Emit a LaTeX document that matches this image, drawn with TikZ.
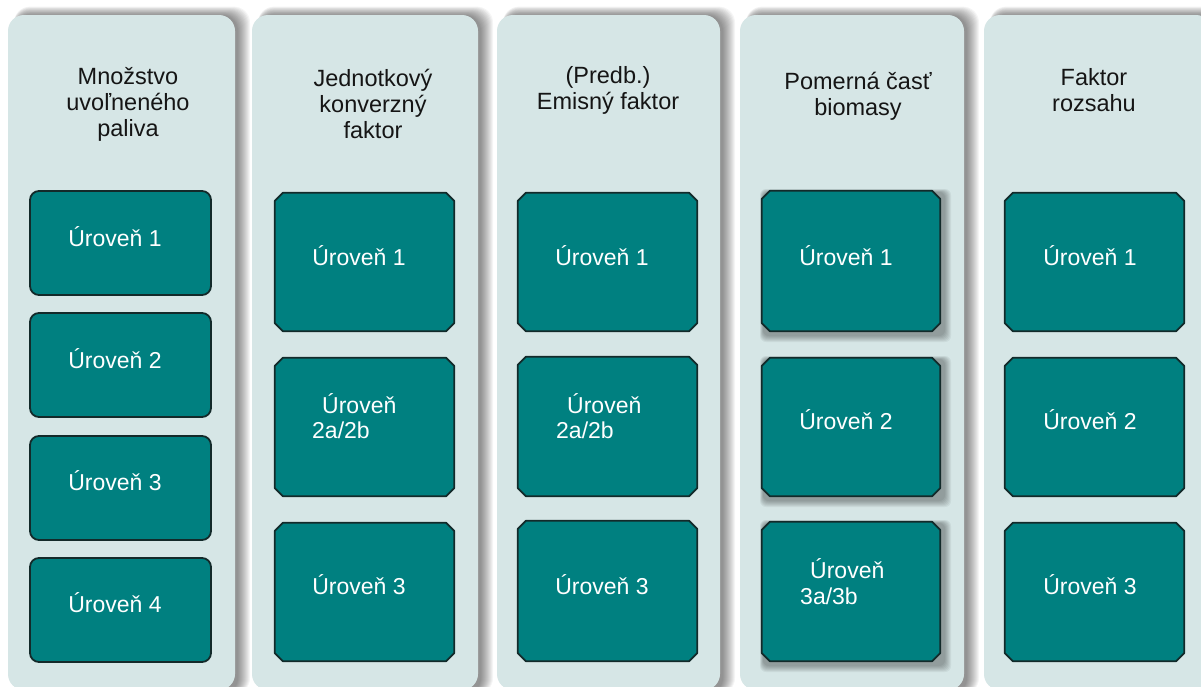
\documentclass[tikz,border=0pt]{standalone}
\usepackage{fontspec}
\setmainfont{Liberation Sans}

\definecolor{lanefill}{HTML}{D6E6E6}
\definecolor{levelfill}{HTML}{008080}
\definecolor{levelline}{HTML}{132A2A}
\definecolor{headink}{HTML}{151515}

\tikzset{
  lane/.style={rectangle, fill=lanefill, rounded corners=16pt, inner sep=0pt},
  levelslot/.style={rectangle, inner sep=0pt},
  levelpath/.style={draw=levelline, line width=1.8pt, fill=levelfill,
    line join=round},
  roundbox/.style={rectangle, rounded corners=9pt, draw=levelline,
    line width=1.8pt, fill=levelfill, inner sep=0pt},
  leveltext/.style={text=white, font=\fontsize{23}{27}\selectfont,
    inner sep=0pt, anchor=base},
  levelleft/.style={leveltext, anchor=base west},
  head/.style={text=headink, font=\fontsize{23.5}{26}\selectfont,
    align=center, inner sep=0pt},
}

% outline of a level box with cut corners, traced round a named node
\newcommand\cutbox[1]{%
  \path[levelpath]
    ([xshift=8pt]#1.north west) -- ([xshift=-8pt]#1.north east)
    -- ([yshift=-8pt]#1.north east) -- ([yshift=8pt]#1.south east)
    -- ([xshift=-8pt]#1.south east) -- ([xshift=8pt]#1.south west)
    -- ([yshift=8pt]#1.south west) -- ([yshift=-8pt]#1.north west)
    -- cycle;}

\begin{document}
\begin{tikzpicture}[x=1pt,y=-1pt]
\useasboundingbox (0,0) rectangle (1201,686);
\fill[white] (0,0) rectangle (1201,686);

% soft shadows to the right of each lane
\foreach \a/\b in {8/235,252/478,497/720,740/964,984/1212}{
  \foreach \i in {0,...,12}{
    \fill[black, opacity=0.04, rounded corners=16pt]
      (\a+6, 15-\i*0.7) rectangle (\b+3+\i, 694);
  }
}

% lanes
\node[lane, minimum width=227pt, minimum height=675pt] (lane1) at (121.5,352.5) {};
\node[lane, minimum width=226pt, minimum height=675pt] (lane2) at (365,352.5) {};
\node[lane, minimum width=223pt, minimum height=675pt] (lane3) at (608.5,352.5) {};
\node[lane, minimum width=224pt, minimum height=675pt] (lane4) at (852,352.5) {};
\node[lane, minimum width=228pt, minimum height=675pt] (lane5) at (1098,352.5) {};

% headings
\node[head] (h1) at (128,104) {Množstvo\\uvoľneného\\paliva};
\node[head] (h2) at (373,104) {Jednotkový\\konverzný\\faktor};
\node[head] (h3) at (608,90) {(Predb.)\\Emisný faktor};
\node[head] (h4) at (858,96) {Pomerná časť\\biomasy};
\node[head] (h5) at (1094,90) {Faktor\\rozsahu};

% first lane: four levels
\node[roundbox, minimum width=181pt, minimum height=104pt] (b11) at (120.5,243) {};
\node[roundbox, minimum width=181pt, minimum height=104pt] (b12) at (120.5,365) {};
\node[roundbox, minimum width=181pt, minimum height=104pt] (b13) at (120.5,488) {};
\node[roundbox, minimum width=181pt, minimum height=104pt] (b14) at (120.5,610) {};
\node[leveltext] (t11) at (115,246) {Úroveň 1};
\node[leveltext] (t12) at (115,368) {Úroveň 2};
\node[leveltext] (t13) at (115,490) {Úroveň 3};
\node[leveltext] (t14) at (115,612) {Úroveň 4};

% second lane
\node[levelslot, minimum width=179pt, minimum height=138pt] (b21) at (364.5,262) {};
\node[levelslot, minimum width=179pt, minimum height=138pt] (b22) at (364.5,427) {};
\node[levelslot, minimum width=179pt, minimum height=138pt] (b23) at (364.5,592) {};
\cutbox{b21}\cutbox{b22}\cutbox{b23}
\node[leveltext] (t21) at (359,265) {Úroveň 1};
\node[levelleft] (t22a) at (322,413) {Úroveň};
\node[levelleft] (t22b) at (312,438) {2a/2b};
\node[leveltext] (t23) at (359,594) {Úroveň 3};

% third lane
\node[levelslot, minimum width=179pt, minimum height=138pt] (b31) at (607.5,262) {};
\node[levelslot, minimum width=179pt, minimum height=139pt] (b32) at (607.5,426.5) {};
\node[levelslot, minimum width=179pt, minimum height=140pt] (b33) at (607.5,591) {};
\cutbox{b31}\cutbox{b32}\cutbox{b33}
\node[leveltext] (t31) at (602,265) {Úroveň 1};
\node[levelleft] (t32a) at (567,413) {Úroveň};
\node[levelleft] (t32b) at (556,438) {2a/2b};
\node[leveltext] (t33) at (602,594) {Úroveň 3};

% fourth lane, levels carry a drop shadow
\foreach \ya/\yb in {190/332,357/497,521/662}{
  \foreach \i in {0,...,6}{
    \fill[black, opacity=0.05, rounded corners=6pt]
      (763-\i*0.5, \ya+2-\i*0.5) rectangle (945+\i, \yb+4+\i);
  }
}
\node[levelslot, minimum width=178pt, minimum height=140pt] (b41) at (851,261) {};
\node[levelslot, minimum width=178pt, minimum height=138pt] (b42) at (851,427) {};
\node[levelslot, minimum width=178pt, minimum height=139pt] (b43) at (851,591.5) {};
\cutbox{b41}\cutbox{b42}\cutbox{b43}
\node[leveltext] (t41) at (846,265) {Úroveň 1};
\node[leveltext] (t42) at (846,429) {Úroveň 2};
\node[levelleft] (t43a) at (810,578) {Úroveň};
\node[levelleft] (t43b) at (800,604) {3a/3b};

% fifth lane
\node[levelslot, minimum width=179pt, minimum height=138pt] (b51) at (1094.5,262) {};
\node[levelslot, minimum width=179pt, minimum height=138pt] (b52) at (1094.5,427) {};
\node[levelslot, minimum width=179pt, minimum height=138pt] (b53) at (1094.5,592) {};
\cutbox{b51}\cutbox{b52}\cutbox{b53}
\node[leveltext] (t51) at (1090,265) {Úroveň 1};
\node[leveltext] (t52) at (1090,429) {Úroveň 2};
\node[leveltext] (t53) at (1090,594) {Úroveň 3};
\end{tikzpicture}
\end{document}
